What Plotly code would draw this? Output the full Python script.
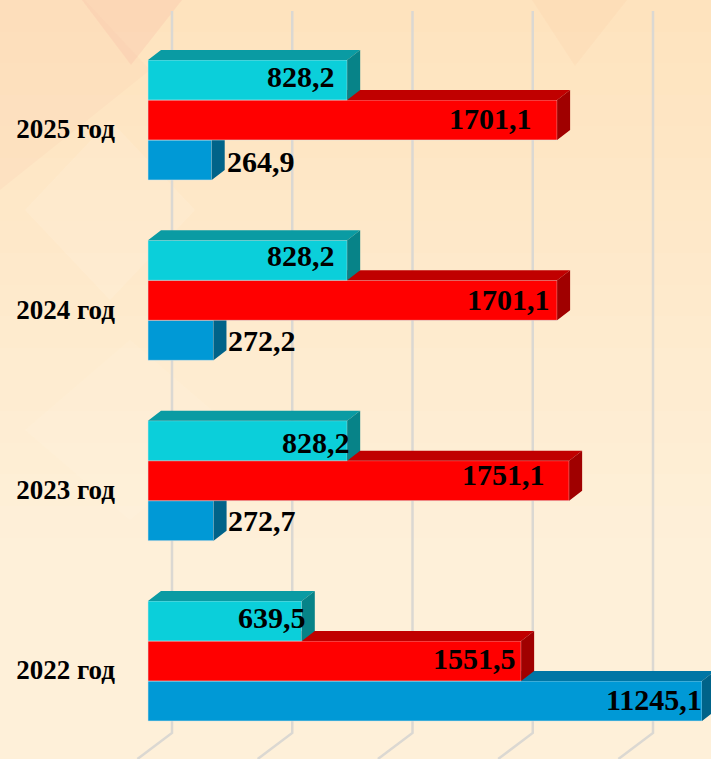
import plotly.graph_objects as go

# ---- data ----
categories = ["2022 год", "2023 год", "2024 год", "2025 год"]
cyan_values = [639.5, 828.2, 828.2, 828.2]
red_values = [1551.5, 1751.1, 1701.1, 1701.1]
blue_values = [11245.1, 272.7, 272.2, 264.9]
grid_ticks = [0, 500, 1000, 1500, 2000]

# ---- scale / layout constants ----
W, H = 711, 759
PX_PER_UNIT = 0.2405
PX_PER_GROUP = 180.33
ORIGIN_PX = 148
GROUP0_PX = 661
AXIS_MAX = (702 - ORIGIN_PX) / PX_PER_UNIT
DX = 13 / PX_PER_UNIT
DY = 10 / PX_PER_GROUP
BAR_H = 40 / PX_PER_GROUP
XR = [-ORIGIN_PX / PX_PER_UNIT, (W - ORIGIN_PX) / PX_PER_UNIT]
YR = [(GROUP0_PX - H) / PX_PER_GROUP, GROUP0_PX / PX_PER_GROUP]
SERIF = "Liberation Serif"

# label offsets in pixels from bar end (dx, dy), by series and category
cyan_off = [(6, 4), (5, -2), (-10, 5), (-10, 4)]
red_off = [(-3, 3), (-22, 6), (-5, 1), (-23, 2)]
blue_off = [(2, 2), (84, 0), (85, 0), (85, -1)]

series = [
    ("blue", blue_values, blue_off, -60, "#0099D6", "#0076A5", "#006389", 2),
    ("red", red_values, red_off, -20, "#FF0000", "#C00000", "#A00000", 3),
    ("cyan", cyan_values, cyan_off, 20, "#0BCFDA", "#0A9BA3", "#078388", 4),
]

fig = go.Figure()
idx = list(range(len(categories)))


def poly(points):
    xs, ys = [], []
    for shape in points:
        for a, b in shape + [shape[0]]:
            xs.append(a)
            ys.append(b)
        xs.append(None)
        ys.append(None)
    return xs, ys


# gridlines on the base subplot, below every bar
back = 24 / PX_PER_UNIT
corner = (GROUP0_PX - 733) / PX_PER_GROUP
gx, gy = [], []
for t in grid_ticks:
    gx += [t + back, t + back, t + back - (26 * 1.33) / PX_PER_UNIT, None]
    gy += [(GROUP0_PX - 11) / PX_PER_GROUP, corner, YR[0], None]
fig.add_trace(go.Scatter(x=gx, y=gy, mode="lines", hoverinfo="skip", showlegend=False,
                         line=dict(color="#DBD8D2", width=2.5)))
annotations = []
for name, vals, offs, off_px, front, top, side, ax in series:
    clipped = [min(v, AXIS_MAX) for v in vals]
    fig.add_trace(go.Bar(
        y=idx, x=clipped, orientation="h", name=name, showlegend=False,
        offset=off_px / PX_PER_GROUP, width=BAR_H,
        marker=dict(color=front, line=dict(color="rgba(220,225,225,0.55)", width=1)),
        xaxis=f"x{ax}", yaxis=f"y{ax}", hoverinfo="skip",
    ))
    low = [i + off_px / PX_PER_GROUP for i in idx]
    tops = [[(0, l + BAR_H), (c, l + BAR_H), (c + DX, l + BAR_H + DY), (DX, l + BAR_H + DY)]
            for l, c in zip(low, clipped)]
    sides = [[(c, l), (c, l + BAR_H), (c + DX, l + BAR_H + DY), (c + DX, l + DY)]
             for l, c in zip(low, clipped)]
    for shapes, col in ((tops, top), (sides, side)):
        xs, ys = poly(shapes)
        fig.add_trace(go.Scatter(x=xs, y=ys, mode="lines", fill="toself", fillcolor=col,
                                 line=dict(width=0, color=col), hoverinfo="skip",
                                 showlegend=False, xaxis=f"x{ax}", yaxis=f"y{ax}"))
    for i, v, c, (dx, dy), l in zip(idx, vals, clipped, offs, low):
        annotations.append(dict(
            x=c, y=l + BAR_H / 2, xref="x", yref="y", xanchor="right", yanchor="middle",
            xshift=dx, yshift=dy, showarrow=False,
            text="<b>" + f"{v:.1f}".replace(".", ",") + "</b>",
            font=dict(family=SERIF, size=30, color="#000000"),
        ))

# background gradient bands and faint diamonds (decoration)
shapes = []
c0, c1 = (254, 227, 190), (254, 240, 217)
N = 24
for i in range(N):
    t = min(1.0, i / (N * 0.7))
    col = tuple(round(a + (b - a) * t) for a, b in zip(c0, c1))
    y_top = round(H * i / N) + 1
    y_bot = 0 if i == N - 1 else H - round(H * (i + 1) / N) - 1
    shapes.append(dict(type="rect", xref="paper", yref="paper", layer="below",
                       x0=0, x1=1, y0=y_bot / H, y1=1 if i == 0 else (H - y_top + 1) / H,
                       line_width=0, fillcolor=f"rgb{col}"))
decor = [
    ([(0, 190), (0, 0), (85, 0), (150, 70)], "rgba(252,205,175,0.20)"),
    ([(82, 0), (182, 0), (131, 65)], "rgba(250,190,165,0.30)"),
    ([(532, 0), (627, 0), (575, 66)], "rgba(250,190,150,0.12)"),
    ([(25, 210), (110, 120), (195, 210), (110, 300)], "rgba(255,255,255,0.10)"),
    ([(25, 430), (130, 340), (235, 430), (130, 520)], "rgba(255,255,255,0.07)"),
]
for pts, col in decor:
    path = "M" + " L".join(f"{x / W:.4f},{1 - y / H:.4f}" for x, y in pts) + " Z"
    shapes.append(dict(type="path", xref="paper", yref="paper", layer="below",
                       path=path, line_width=0, fillcolor=col))

fig.update_layout(
    width=W, height=H, autosize=False, margin=dict(l=0, r=0, t=0, b=0),
    paper_bgcolor="#FEF0D9", plot_bgcolor="rgba(0,0,0,0)",
    showlegend=False, shapes=shapes, annotations=annotations,
    xaxis=dict(range=XR, visible=False, domain=[0, 1], fixedrange=True),
    yaxis=dict(range=YR, domain=[0, 1], anchor="free", position=ORIGIN_PX / W,
               tickmode="array", tickvals=idx, ticktext=[f"<b>{c}</b>" for c in categories],
               ticks="", showline=False, showgrid=False, zeroline=False,
               ticklabelstandoff=33, ticklabelshift=9, fixedrange=True,
               tickfont=dict(family=SERIF, size=27, color="#000000")),
)
for ax in (2, 3, 4):
    fig.update_layout({
        f"xaxis{ax}": dict(range=XR, visible=False, overlaying="x", fixedrange=True),
        f"yaxis{ax}": dict(range=YR, visible=False, overlaying="y", fixedrange=True),
    })

fig.write_html("out.html", config={"displayModeBar": False},
               post_script="document.body.style.margin='0';document.documentElement.style.overflow='hidden';")
